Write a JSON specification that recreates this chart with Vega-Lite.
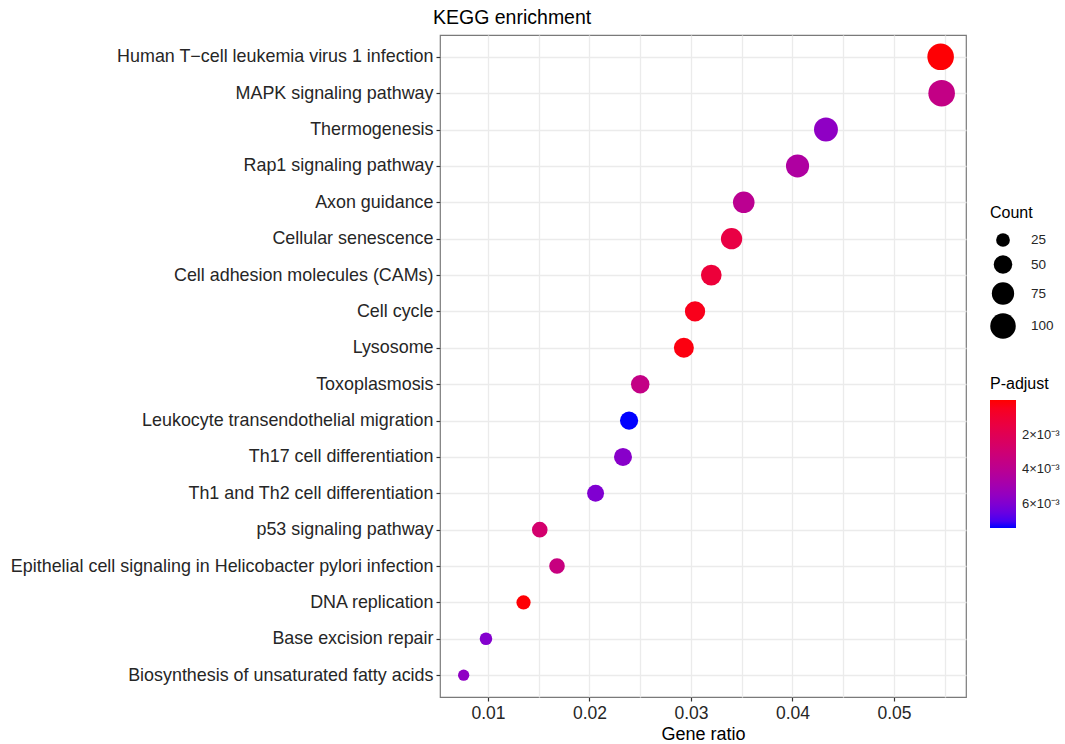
{
  "$schema": "https://vega.github.io/schema/vega-lite/v6.json",
  "autosize": {"type": "none"},
  "padding": {"left": 440, "top": 35, "right": 99, "bottom": 47},
  "width": 526,
  "height": 662,
  "background": "white",
  "title": {"text": "KEGG enrichment", "anchor": "start", "frame": "group", "fontSize": 19.5, "fontWeight": "normal", "font": "Liberation Sans", "color": "#000000", "offset": 7, "dx": -7},
  "config": {
    "font": "Liberation Sans",
    "view": {"stroke": "#7a7a7a", "strokeWidth": 1.2}
  },
  "data": {"values": [
    {"pathway": "Human T\u2212cell leukemia virus 1 infection", "ratio": 0.0546, "count": 109, "padj": 0.00005},
    {"pathway": "MAPK signaling pathway", "ratio": 0.0547, "count": 109, "padj": 0.0036},
    {"pathway": "Thermogenesis", "ratio": 0.0433, "count": 87, "padj": 0.0056},
    {"pathway": "Rap1 signaling pathway", "ratio": 0.0405, "count": 81, "padj": 0.0045},
    {"pathway": "Axon guidance", "ratio": 0.0352, "count": 70, "padj": 0.0040},
    {"pathway": "Cellular senescence", "ratio": 0.0340, "count": 68, "padj": 0.0015},
    {"pathway": "Cell adhesion molecules (CAMs)", "ratio": 0.0320, "count": 64, "padj": 0.0012},
    {"pathway": "Cell cycle", "ratio": 0.0304, "count": 61, "padj": 0.0004},
    {"pathway": "Lysosome", "ratio": 0.0293, "count": 59, "padj": 0.0002},
    {"pathway": "Toxoplasmosis", "ratio": 0.0250, "count": 50, "padj": 0.0036},
    {"pathway": "Leukocyte transendothelial migration", "ratio": 0.0239, "count": 48, "padj": 0.0074},
    {"pathway": "Th17 cell differentiation", "ratio": 0.0233, "count": 47, "padj": 0.0058},
    {"pathway": "Th1 and Th2 cell differentiation", "ratio": 0.0206, "count": 41, "padj": 0.0060},
    {"pathway": "p53 signaling pathway", "ratio": 0.0151, "count": 34, "padj": 0.0028},
    {"pathway": "Epithelial cell signaling in Helicobacter pylori infection", "ratio": 0.0168, "count": 34, "padj": 0.0034},
    {"pathway": "DNA replication", "ratio": 0.0135, "count": 27, "padj": 0.00005},
    {"pathway": "Base excision repair", "ratio": 0.0098, "count": 20, "padj": 0.0059},
    {"pathway": "Biosynthesis of unsaturated fatty acids", "ratio": 0.0076, "count": 15, "padj": 0.0056}
  ]},
  "mark": {"type": "point", "filled": true, "opacity": 1, "strokeWidth": 0, "shape": "circle"},
  "encoding": {
    "y": {
      "field": "pathway", "type": "nominal", "sort": null,
      "scale": {"type": "point", "padding": 0.6},
      "axis": {
        "title": null, "domain": false, "labelFontSize": 17.9, "labelColor": "#262626", "labelPadding": 3,
        "tickSize": 4, "tickColor": "#333333", "tickWidth": 1.2,
        "grid": true, "gridColor": "#ebebeb", "gridWidth": 1.3, "labelLimit": 600
      }
    },
    "x": {
      "field": "ratio", "type": "quantitative",
      "scale": {"domain": [0.00527, 0.0571], "nice": false, "zero": false},
      "axis": {
        "title": "Gene ratio", "titleFontSize": 18, "titleFontWeight": "normal", "titleColor": "#000000", "titlePadding": 4,
        "values": [0.005, 0.01, 0.015, 0.02, 0.025, 0.03, 0.035, 0.04, 0.045, 0.05, 0.055],
        "format": ".2f",
        "labelExpr": "round(datum.value*1000) % 10 == 0 ? datum.label : ''",
        "domain": false, "labelFontSize": 17.5, "labelColor": "#262626", "labelPadding": 3,
        "tickSize": 4, "tickColor": "#333333", "tickWidth": 1.2,
        "tickOpacity": {"condition": {"test": "round(datum.value*1000) % 10 == 0", "value": 1}, "value": 0},
        "grid": true, "gridColor": "#ebebeb", "gridWidth": 1.3
      }
    },
    "size": {
      "field": "count", "type": "quantitative",
      "scale": {"domain": [15, 109], "range": [127, 707], "zero": false},
      "legend": {
        "title": "Count", "orient": "none", "legendX": 550, "legendY": 170,
        "values": [25, 50, 75, 100],
        "titleFontSize": 16, "titleFontWeight": "normal", "titleColor": "#000000", "titlePadding": 12,
        "labelFontSize": 13.5, "labelColor": "#262626", "labelOffset": 15,
        "symbolFillColor": "#000000", "symbolStrokeWidth": 0, "symbolOpacity": 1, "rowPadding": 8
      }
    },
    "color": {
      "field": "padj", "type": "quantitative",
      "scale": {"domain": [0.0074, 0], "range": ["#0000ff", "#ff0000"], "interpolate": "lab"},
      "legend": {
        "title": "P-adjust", "orient": "none", "legendX": 550, "legendY": 341,
        "values": [0.002, 0.004, 0.006],
        "labelExpr": "round(datum.value*1000) + '\u00d710\u207b\u00b3'",
        "gradientLength": 128, "gradientThickness": 26, "gradientStrokeWidth": 0,
        "titleFontSize": 16, "titleFontWeight": "normal", "titleColor": "#000000", "titlePadding": 8,
        "labelFontSize": 13, "labelColor": "#262626", "labelOffset": 6
      }
    }
  }
}
